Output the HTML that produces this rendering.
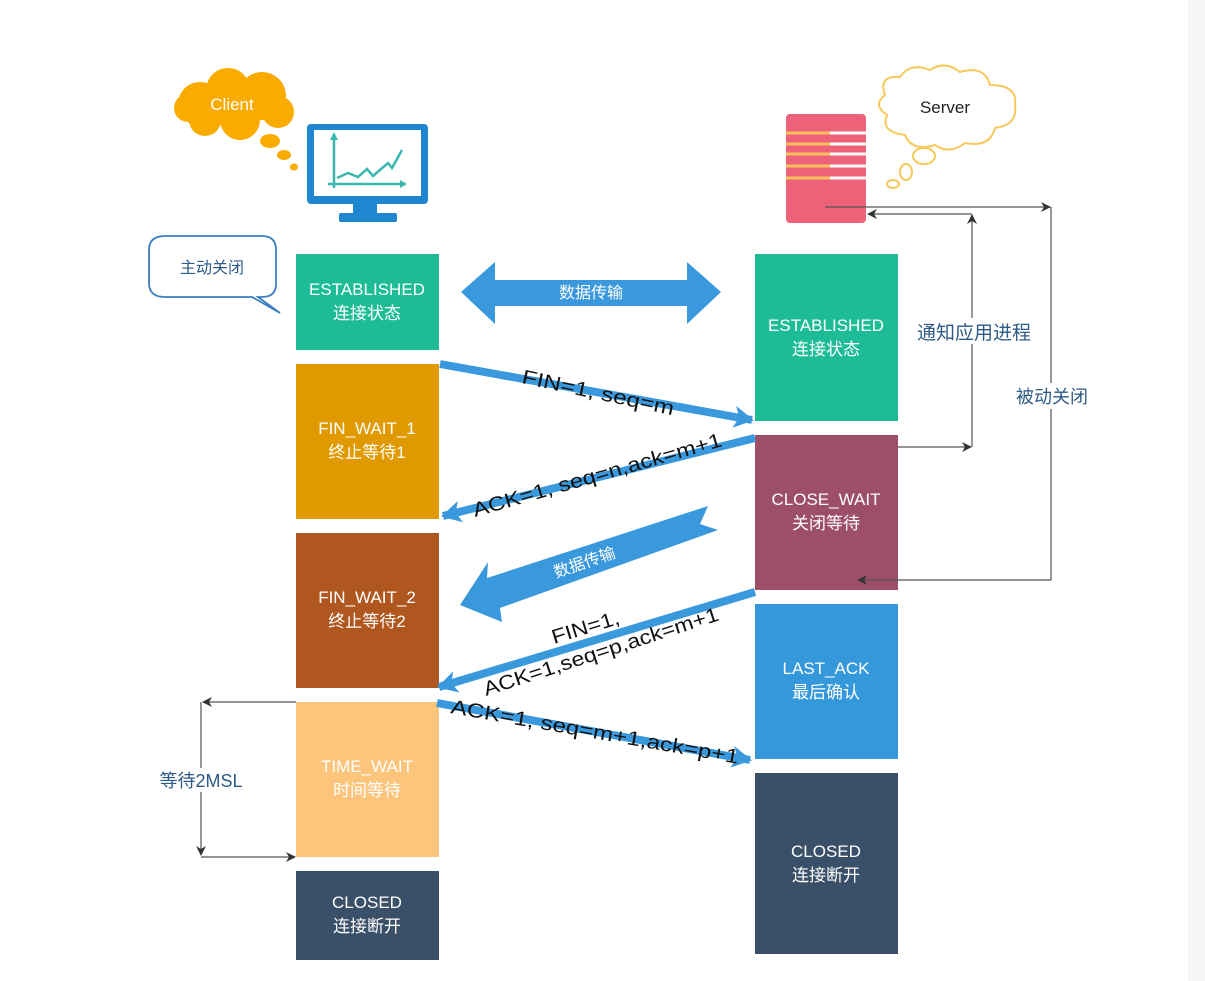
<!DOCTYPE html>
<html><head><meta charset="utf-8"><style>
body{margin:0;background:#fff;}
svg{display:block}
text{font-family:"Liberation Sans","Noto Sans CJK SC",sans-serif;}
</style></head><body>
<svg width="1205" height="981" viewBox="0 0 1205 981" xmlns="http://www.w3.org/2000/svg">
<defs>
<marker id="ah" markerWidth="10" markerHeight="10" refX="9" refY="5" orient="auto" markerUnits="userSpaceOnUse"><path d="M0,0 L10,5 L0,10 L3,5 Z" fill="#333"/></marker>
<marker id="bh" markerWidth="22" markerHeight="22" refX="18" refY="11" orient="auto" markerUnits="userSpaceOnUse"><path d="M0,0 L20,11 L0,22 L5,11 Z" fill="#3a98dc"/></marker>
</defs>
<rect x="1188" y="0" width="17" height="981" fill="#f6f6f6"/>
<g fill="#f9ab00">
<circle cx="200" cy="104" r="22"/><circle cx="228" cy="90" r="22"/><circle cx="262" cy="96" r="24"/><circle cx="278" cy="112" r="16"/><circle cx="240" cy="120" r="20"/><circle cx="205" cy="120" r="16"/><circle cx="188" cy="108" r="14"/><rect x="200" y="88" width="70" height="30"/>
<ellipse cx="270" cy="141" rx="10" ry="7"/><ellipse cx="284" cy="155" rx="7" ry="5"/><ellipse cx="294" cy="167" rx="4" ry="3.5"/>
</g>
<text x="232" y="110" font-size="17" fill="#fff" text-anchor="middle">Client</text>
<rect x="307" y="124" width="121" height="80" rx="4" fill="#1f86d0"/>
<rect x="314" y="130" width="107" height="66" fill="#fff"/>
<rect x="353" y="203" width="24" height="12" fill="#1f86d0"/>
<rect x="339" y="213" width="58" height="9" rx="2" fill="#1f86d0"/>
<g stroke="#3ab8b0" stroke-width="2.5" fill="none"><path d="M334,188 V138"/><path d="M328,184 H404"/><path d="M337,178 L348,173 L358,177 L367,169 L373,176 L388,163 L392,168 L402,150"/></g>
<path d="M330,140 L334,132 L338,140Z M400,180 L407,184 L400,188Z" fill="#3ab8b0"/>
<path d="M165,236 H262 Q276,236 276,250 V284 Q276,297 262,297 H258 L280,313 L252,297 H165 Q149,297 149,283 V250 Q149,236 165,236Z" fill="#fff" stroke="#3a7fbf" stroke-width="1.8"/>
<text x="212" y="273" font-size="16" fill="#2d5a86" text-anchor="middle">主动关闭</text>
<rect x="786" y="114" width="80" height="109" rx="4" fill="#ee6279"/>
<g stroke-width="3"><path d="M786,133H830M786,144H830M786,154H830M786,166H830M786,178H830" stroke="#f7c05c"/><path d="M830,133H866M830,144H866M830,154H866M830,166H866M830,178H866" stroke="#fff"/></g>
<g fill="#fff" stroke="#f7c85a" stroke-width="2">
<path d="M885,95 Q878,75 900,77 Q910,62 930,70 Q945,60 960,72 Q985,65 990,85 Q1018,85 1015,105 Q1018,125 995,128 Q990,148 965,143 Q950,155 935,145 Q912,152 905,135 Q880,132 887,115 Q872,105 885,95Z"/>
<ellipse cx="924" cy="156" rx="11" ry="8"/><ellipse cx="906" cy="172" rx="6" ry="8"/><ellipse cx="893" cy="184" rx="6" ry="4"/>
</g>
<text x="945" y="113" font-size="17" fill="#222" text-anchor="middle">Server</text>
<rect x="296" y="254" width="143" height="96" fill="#1dbc97"/>
<rect x="296" y="364" width="143" height="155" fill="#e09a00"/>
<rect x="296" y="533" width="143" height="155" fill="#b0571f"/>
<rect x="296" y="702" width="143" height="155" fill="#fdc47c"/>
<rect x="296" y="871" width="143" height="89" fill="#3a5068"/>
<rect x="755" y="254" width="143" height="167" fill="#1dbc97"/>
<rect x="755" y="435" width="143" height="155" fill="#9e4f68"/>
<rect x="755" y="604" width="143" height="155" fill="#3498db"/>
<rect x="755" y="773" width="143" height="181" fill="#3a5068"/>
<g font-size="17" fill="#fff" text-anchor="middle">
<text x="367" y="295">ESTABLISHED</text><text x="367" y="319">连接状态</text>
<text x="367" y="434">FIN_WAIT_1</text><text x="367" y="458">终止等待1</text>
<text x="367" y="603">FIN_WAIT_2</text><text x="367" y="627">终止等待2</text>
<text x="367" y="772">TIME_WAIT</text><text x="367" y="796">时间等待</text>
<text x="367" y="908">CLOSED</text><text x="367" y="932">连接断开</text>
<text x="826" y="331">ESTABLISHED</text><text x="826" y="355">连接状态</text>
<text x="826" y="505">CLOSE_WAIT</text><text x="826" y="529">关闭等待</text>
<text x="826" y="674">LAST_ACK</text><text x="826" y="698">最后确认</text>
<text x="826" y="857">CLOSED</text><text x="826" y="881">连接断开</text>
</g>
<path d="M461,292 L495,262 L495,280 L687,280 L687,262 L721,292 L687,324 L687,306 L495,306 L495,324Z" fill="#3a98dc"/>
<text x="591" y="298" font-size="16" fill="#fff" text-anchor="middle">数据传输</text>
<g stroke="#3a98dc" stroke-width="8" fill="none" marker-end="url(#bh)">
<path d="M440,364 L752,420"/>
<path d="M755,438 L443,516"/>
<path d="M755,592 L439,687"/>
<path d="M437,703 L750,760"/>
</g>
<path d="M460,605 L488,562 L487,578 L708,506 L700,524 L718,530 L500,608 L502,622Z" fill="#3a98dc"/>
<text transform="translate(556,578) rotate(-19)" font-size="16" fill="#fff">数据传输</text>
<g font-size="20" fill="#111">
<text transform="translate(521,383) rotate(12)" textLength="155" lengthAdjust="spacingAndGlyphs">FIN=1,  seq=m</text>
<text transform="translate(475,517) rotate(-16)" textLength="258" lengthAdjust="spacingAndGlyphs">ACK=1,  seq=n,ack=m+1</text>
<text transform="translate(554,644) rotate(-17)" textLength="70" lengthAdjust="spacingAndGlyphs">FIN=1,</text>
<text transform="translate(486,696) rotate(-18)" textLength="246" lengthAdjust="spacingAndGlyphs">ACK=1,seq=p,ack=m+1</text>
<text transform="translate(450,713) rotate(10)" textLength="292" lengthAdjust="spacingAndGlyphs">ACK=1,  seq=m+1,ack=p+1</text>
</g>
<g stroke="#555" stroke-width="1.2" fill="none">
<path d="M825,207 H1050" marker-end="url(#ah)"/>
<path d="M1051,207 V580 H858" marker-end="url(#ah)"/>
<path d="M898,447 H971" marker-end="url(#ah)"/>
<path d="M972,447 V215" marker-end="url(#ah)"/>
<path d="M972,214 H868" marker-end="url(#ah)"/>
<path d="M296,702 H203" marker-end="url(#ah)"/>
<path d="M201,702 V855" marker-end="url(#ah)"/>
<path d="M201,857 H295" marker-end="url(#ah)"/>
</g>
<rect x="910" y="318" width="128" height="26" fill="#fff"/>
<text x="974" y="339" font-size="19" fill="#2d5a86" text-anchor="middle">通知应用进程</text>
<rect x="1010" y="383" width="84" height="26" fill="#fff"/>
<text x="1052" y="403" font-size="18" fill="#2d5a86" text-anchor="middle">被动关闭</text>
<rect x="155" y="768" width="92" height="24" fill="#fff"/>
<text x="201" y="787" font-size="18" fill="#2d5a86" text-anchor="middle">等待2MSL</text>
</svg>
</body></html>
